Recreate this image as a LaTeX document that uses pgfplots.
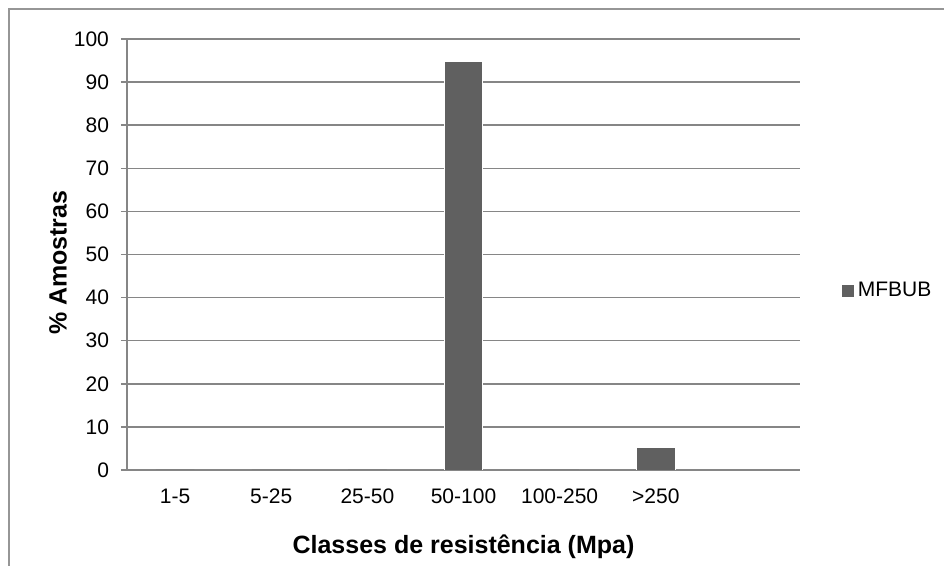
\documentclass[border=0pt]{standalone}
\usepackage{fontspec}
\setmainfont{Liberation Sans}
\usepackage{pgfplots}
\pgfplotsset{compat=1.18}
\definecolor{barcol}{RGB}{96,96,96}
\definecolor{gridcol}{RGB}{134,134,134}
\definecolor{framecol}{RGB}{150,150,150}
\begin{document}
\begin{tikzpicture}
\useasboundingbox (0,0) rectangle (472pt,283pt);
\draw[framecol, line width=0.6pt] (4.5pt,-1pt) -- (4.5pt,278.5pt) -- (473pt,278.5pt);
\begin{axis}[
  at={(63.5pt,48pt)}, anchor=south west,
  scale only axis, width=336.5pt, height=215.5pt,
  xmin=-0.5, xmax=6.5, ymin=0, ymax=100,
  axis x line*=bottom, axis y line*=left,
  axis line style={gridcol, line width=0.75pt},
  xtick={0,...,5},
  xticklabels={1-5,5-25,25-50,50-100,100-250,>250},
  ytick={0,10,...,100},
  ymajorgrids, grid style={gridcol, line width=0.75pt},
  xtick style={draw=none},
  ytick style={gridcol, line width=0.75pt},
  tick align=outside, major tick length=3pt,
  tick label style={font=\fontsize{10.5}{12}\selectfont},
  xticklabel style={yshift=-3pt},
  yticklabel style={xshift=-2.5pt},
  /pgf/number format/assume math mode=true,
  ylabel={\% Amostras},
  xlabel={Classes de resistência (Mpa)},
  every axis y label/.style={at={(rel axis cs:-0.1025,0.481)}, rotate=90, anchor=center,
    font=\bfseries\fontsize{12.5}{14}\selectfont},
  every axis x label/.style={at={(rel axis cs:0.5,-0.179)}, anchor=center,
    font=\bfseries\fontsize{12.5}{14}\selectfont},
  ybar, bar width=0.4,
  legend style={at={(rel axis cs:1.0624,0.4165)}, anchor=west, draw=none, fill=none, inner sep=0pt,
    font=\fontsize{10.5}{12}\selectfont},
  legend image code/.code={\fill[barcol] (0pt,-2.7pt) rectangle (5.4pt,2.7pt);},
]
\addplot[fill=barcol, draw=white, line width=0.3pt] coordinates {(0,0) (1,0) (2,0) (3,94.74) (4,0) (5,5.26)};
\addlegendentry{MFBUB}
\end{axis}
\end{tikzpicture}
\end{document}
